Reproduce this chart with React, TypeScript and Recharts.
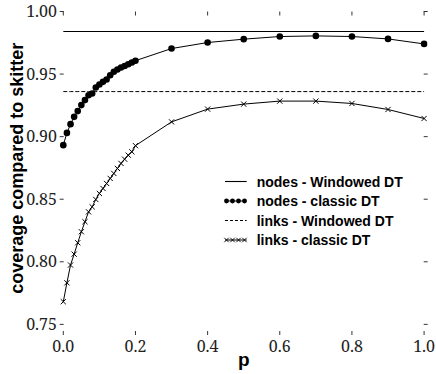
import React from "react";
import { LineChart, Line, XAxis, YAxis, Legend } from "recharts";

// ---------- data ----------
const pValues = [
  0, 0.01, 0.02, 0.03, 0.04, 0.05, 0.06, 0.07, 0.08, 0.09, 0.1,
  0.11, 0.12, 0.13, 0.14, 0.15, 0.16, 0.17, 0.18, 0.19, 0.2,
  0.3, 0.4, 0.5, 0.6, 0.7, 0.8, 0.9, 1.0,
];
const nodesClassic = [
  0.8932, 0.903, 0.91, 0.9158, 0.9204, 0.9252, 0.9292, 0.9331, 0.9345, 0.9393, 0.9417,
  0.9438, 0.9457, 0.9491, 0.9518, 0.9537, 0.9553, 0.9565, 0.9579, 0.9593, 0.9607,
  0.9704, 0.9752, 0.9779, 0.98, 0.9805, 0.98, 0.9781, 0.9741,
];
const linksClassic = [
  0.7681, 0.7832, 0.7974, 0.8061, 0.8152, 0.824, 0.832, 0.8399, 0.8439, 0.8498, 0.8546,
  0.8586, 0.8626, 0.8666, 0.8706, 0.8746, 0.8786, 0.882, 0.8852, 0.8879, 0.8928,
  0.9118, 0.922, 0.926, 0.9284, 0.9284, 0.9265, 0.9217, 0.9145,
];
const nodesWindowed = 0.984;
const linksWindowed = 0.936;

const xTicks = [0, 0.2, 0.4, 0.6, 0.8, 1.0];
const yTicks = [0.75, 0.8, 0.85, 0.9, 0.95, 1.0];
const seriesNames = [
  "nodes - Windowed DT",
  "nodes - classic DT",
  "links - Windowed DT",
  "links - classic DT",
];
const xLabel = "p";
const yLabel = "coverage compared to skitter";

const table = pValues.map((p, i) => ({
  p,
  nw: nodesWindowed,
  nc: nodesClassic[i],
  lw: linksWindowed,
  lc: linksClassic[i],
}));

// ---------- layout ----------
const W = 436;
const H = 374;
const PLOT_LEFT = 59.7;
const PLOT_RIGHT = 427.7;
const PLOT_TOP = 11.5;
const PLOT_BOTTOM = 335;
const TICK = 4;
const SERIF = "Noto Serif";
const SANS = "Liberation Sans";

const XTick = (props: any) => {
  const { x, payload } = props;
  return (
    <g>
      <line x1={x} x2={x} y1={PLOT_BOTTOM} y2={PLOT_BOTTOM - TICK} stroke="#000" strokeWidth={0.8} />
      <line x1={x} x2={x} y1={PLOT_TOP} y2={PLOT_TOP + TICK} stroke="#000" strokeWidth={0.8} />
      <text x={x} y={351.5} textAnchor="middle" fontFamily={SERIF} fontSize={16} fill="#222">
        {Number(payload.value).toFixed(1)}
      </text>
    </g>
  );
};

const YTick = (props: any) => {
  const { y, payload } = props;
  return (
    <g>
      <line x1={PLOT_LEFT} x2={PLOT_LEFT + TICK} y1={y} y2={y} stroke="#000" strokeWidth={0.8} />
      <line x1={PLOT_RIGHT - TICK} x2={PLOT_RIGHT} y1={y} y2={y} stroke="#000" strokeWidth={0.8} />
      <text x={57} y={y + 5.6} textAnchor="end" fontFamily={SERIF} fontSize={16} fill="#222">
        {Number(payload.value).toFixed(2)}
      </text>
    </g>
  );
};

const XDot = (props: any) => {
  const { cx, cy } = props;
  if (cx == null || cy == null) return null;
  const s = 2.6;
  return (
    <path
      d={`M${cx - s},${cy - s}L${cx + s},${cy + s}M${cx - s},${cy + s}L${cx + s},${cy - s}`}
      stroke="#000"
      strokeWidth={1}
      fill="none"
    />
  );
};

const LegendBox = () => {
  const rows = [11.5, 31, 50.5, 70];
  const x0 = 10;
  const x1 = 31.7;
  const mk = [x0 + 1.5, x0 + 7.5, x0 + 13.5, x0 + 19.5];
  return (
    <svg width={215} height={85} style={{ overflow: "visible" }}>
      <line x1={x0} x2={x1} y1={rows[0]} y2={rows[0]} stroke="#000" strokeWidth={1.1} />
      <line x1={x0} x2={x1} y1={rows[1]} y2={rows[1]} stroke="#000" strokeWidth={1} />
      {mk.map((m, i) => (
        <circle key={`d${i}`} cx={m} cy={rows[1]} r={2.4} fill="#000" />
      ))}
      <line x1={x0} x2={x1} y1={rows[2]} y2={rows[2]} stroke="#000" strokeWidth={1} strokeDasharray="3 2" />
      <line x1={x0} x2={x1} y1={rows[3]} y2={rows[3]} stroke="#000" strokeWidth={1} />
      {mk.map((m, i) => (
        <path
          key={`x${i}`}
          d={`M${m - 2.2},${rows[3] - 2.2}L${m + 2.2},${rows[3] + 2.2}M${m - 2.2},${rows[3] + 2.2}L${m + 2.2},${rows[3] - 2.2}`}
          stroke="#000"
          strokeWidth={0.9}
        />
      ))}
      {seriesNames.map((n, i) => (
        <text key={n} x={41.7} y={rows[i] + 5} fontFamily={SANS} fontWeight="bold" fontSize={14} fill="#000">
          {n}
        </text>
      ))}
    </svg>
  );
};

export default function App() {
  return (
    <div style={{ position: "absolute", left: 0, top: 0, width: W, height: H, background: "#fff" }}>
      <LineChart
        width={W}
        height={H}
        data={table}
        margin={{ top: PLOT_TOP, right: W - PLOT_RIGHT, bottom: 0, left: 0 }}
      >
        <XAxis
          type="number"
          dataKey="p"
          domain={[-0.01, 1.01]}
          ticks={xTicks}
          height={H - PLOT_BOTTOM}
          axisLine={false}
          tickLine={false}
          tick={<XTick />}
          allowDataOverflow
          interval={0}
          label={(lp: any) => {
            const vb = lp.viewBox || {};
            return (
              <text
                x={(vb.x ?? PLOT_LEFT) + (vb.width ?? PLOT_RIGHT - PLOT_LEFT) / 2}
                y={366}
                textAnchor="middle"
                fontFamily={SANS}
                fontWeight="bold"
                fontSize={19}
                fill="#000"
              >
                {xLabel}
              </text>
            );
          }}
        />
        <YAxis
          type="number"
          domain={[0.7415, 1.0]}
          ticks={yTicks}
          width={PLOT_LEFT}
          axisLine={false}
          tickLine={false}
          tick={<YTick />}
          allowDataOverflow
          interval={0}
          label={() => (
            <text
              x={23}
              y={168.3}
              transform="rotate(-90 23 168.3)"
              textAnchor="middle"
              fontFamily={SANS}
              fontWeight="bold"
              fontSize={18}
              fill="#000"
            >
              {yLabel}
            </text>
          )}
        />
        <Line dataKey="nw" name={seriesNames[0]} stroke="#000" strokeWidth={1.1} dot={false} isAnimationActive={false} />
        <Line
          dataKey="nc"
          name={seriesNames[1]}
          stroke="#000"
          strokeWidth={1}
          dot={{ r: 3.3, fill: "#000", stroke: "none" }}
          isAnimationActive={false}
        />
        <Line
          dataKey="lw"
          name={seriesNames[2]}
          stroke="#000"
          strokeWidth={1}
          strokeDasharray="4 2"
          dot={false}
          isAnimationActive={false}
        />
        <Line dataKey="lc" name={seriesNames[3]} stroke="#000" strokeWidth={1} dot={<XDot />} isAnimationActive={false} />
        <Legend
          layout="horizontal"
          verticalAlign="middle"
          align="center"
          wrapperStyle={{ position: "absolute", left: 215, top: 170, width: 215, height: 85 }}
          content={() => <LegendBox />}
        />
      </LineChart>
    </div>
  );
}
